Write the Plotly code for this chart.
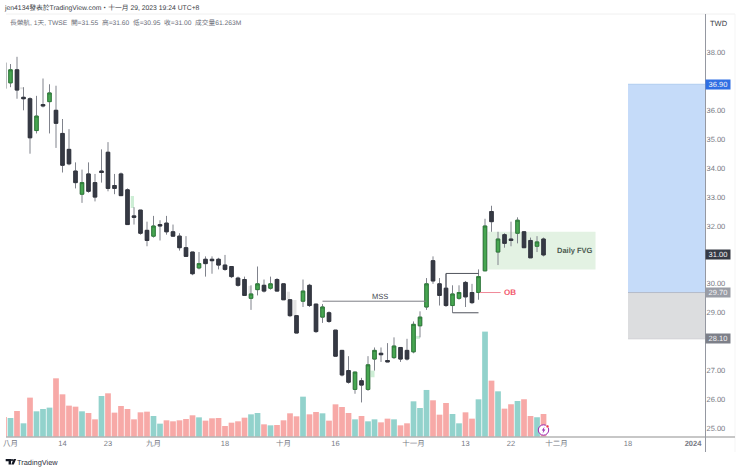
import plotly.graph_objects as go

W, H = 740, 471
# bar index -> session; tick labels sit on the session indices below
bar_index = list(range(84))
opens = [37.65,36.95,37.40,36.45,36.40,35.30,36.20,36.30,36.00,35.20,34.65,33.90,33.10,33.80,33.50,33.90,34.55,33.40,33.80,33.25,32.35,32.55,31.85,31.65,32.05,32.10,31.80,31.65,31.25,31.10,30.55,30.85,30.85,30.85,30.65,30.60,30.20,30.15,29.50,29.80,29.95,29.85,30.15,30.00,29.45,28.90,29.40,29.95,29.30,28.85,29.00,28.40,27.70,27.00,26.35,26.65,26.35,27.40,27.60,27.35,27.45,27.80,27.70,27.65,28.55,29.20,30.80,30.00,29.85,29.25,29.50,30.05,29.70,29.70,30.45,32.50,31.10,31.70,31.55,31.75,31.80,31.50,31.30,31.55]
highs = [37.70,37.60,37.85,36.80,36.45,36.50,37.10,36.90,36.85,35.70,35.35,34.20,33.95,34.20,33.80,34.65,34.90,33.80,33.85,33.30,32.65,32.55,32.15,32.35,32.20,32.35,32.05,31.75,31.65,31.10,31.10,30.95,30.95,30.90,31.00,30.60,30.25,30.25,29.95,30.60,30.15,30.25,30.20,30.00,29.45,28.90,30.15,30.00,29.30,29.30,29.05,28.40,27.70,27.50,26.95,26.75,27.50,27.80,27.80,27.95,28.15,27.80,28.10,28.70,29.05,30.20,30.95,30.20,30.35,29.95,29.95,30.10,30.00,30.50,32.25,32.70,31.80,31.75,32.15,32.30,31.80,31.60,31.65,31.60]
lows = [36.70,36.80,36.40,36.00,34.50,35.20,36.10,35.20,34.70,33.85,34.10,33.30,32.80,33.15,32.85,33.50,33.20,33.10,33.05,32.05,32.05,31.70,31.30,31.60,31.50,31.70,31.65,31.15,30.95,30.30,30.50,30.25,30.35,30.50,30.45,30.20,29.90,29.60,29.10,29.60,29.70,29.80,29.75,29.45,28.85,28.30,29.20,29.20,28.30,28.65,28.65,27.50,26.80,26.55,26.20,25.90,26.30,27.00,27.30,27.30,27.40,27.30,27.35,27.60,28.15,29.10,30.00,29.25,29.20,29.00,29.45,29.20,29.30,29.45,30.45,31.80,30.65,31.25,31.30,31.40,31.25,30.90,31.10,30.95]
closes = [36.75,37.40,36.70,36.40,35.05,35.80,36.15,36.60,35.55,34.10,34.15,33.50,33.50,33.20,33.00,33.85,33.30,33.30,33.05,32.05,32.30,31.75,31.50,32.00,32.00,31.80,31.65,31.25,30.95,30.35,30.70,30.70,30.80,30.65,30.50,30.25,29.95,29.60,29.65,30.00,29.75,30.00,29.75,29.45,28.90,28.30,29.75,29.25,28.35,29.20,28.70,27.50,26.85,26.60,26.95,26.50,27.20,27.70,27.55,27.30,27.85,27.40,27.40,28.60,28.85,30.00,30.10,29.60,29.25,29.65,29.70,29.55,29.35,30.25,32.00,32.15,31.55,31.40,31.50,32.20,31.25,30.90,31.45,31.00]
volumes = [53.2,50.6,69.2,36.4,104.7,68.3,74.5,78.1,156.1,113.5,83.4,80.7,68.3,63.9,47.0,109.1,116.2,64.8,82.5,74.5,47.0,65.6,67.4,55.9,35.5,44.4,41.7,44.4,47.9,57.7,52.3,43.5,49.7,50.6,29.3,38.1,41.7,51.4,60.3,63.9,33.7,31.0,31.9,44.4,63.0,55.0,107.3,60.3,66.5,63.0,43.5,86.9,79.8,63.9,47.0,55.9,41.7,47.0,39.0,48.8,47.0,31.0,36.4,94.9,77.2,125.1,97.6,59.4,90.5,61.2,36.4,65.6,48.8,100.2,280.3,149.9,121.5,75.4,86.9,95.8,100.2,55.9,52.3,61.263]
up_volume_bars = [1,3,5,6,7,12,15,23,24,30,38,39,41,46,49,54,56,57,60,63,64,65,69,70,73,74,76,79,82]

x_tick_vals = [1,9,16,23,34,43,51,63,71,78,85,96,106]
x_tick_text = ["八月","14","23","九月","18","十月","16","十一月","13","22","十二月","18","<b>2024</b>"]
y_tick_vals = [25,26,27,29,30,32,33,34,35,36,38]

TEAL, PINK = "#92d2cc", "#f7a9a7"
FONT = "Liberation Sans, Noto Sans CJK TC, sans-serif"
px = lambda x: x / W
py = lambda y: 1 - y / H

fig = go.Figure()
fig.add_trace(go.Bar(
    x=bar_index, y=volumes, yaxis="y", width=0.88,
    marker=dict(color=[TEAL if i in up_volume_bars else PINK for i in bar_index], line_width=0),
    hoverinfo="skip", showlegend=False))
# wicks in grey, then the same sessions' bodies on top with their darker outlines
fig.add_trace(go.Candlestick(
    x=bar_index, open=opens, high=highs, low=lows, close=closes, yaxis="y2",
    whiskerwidth=0, showlegend=False, hoverinfo="skip",
    increasing=dict(fillcolor="#47a651", line=dict(color="#80838c", width=1)),
    decreasing=dict(fillcolor="#363a45", line=dict(color="#80838c", width=1))))
fig.add_trace(go.Candlestick(
    x=bar_index, open=opens, close=closes, yaxis="y2",
    high=[max(o, c) for o, c in zip(opens, closes)],
    low=[min(o, c) for o, c in zip(opens, closes)],
    whiskerwidth=0, showlegend=False, hoverinfo="skip",
    increasing=dict(fillcolor="#47a651", line=dict(color="#2f7d3a", width=1)),
    decreasing=dict(fillcolor="#363a45", line=dict(color="#33363f", width=1))))

def data_rect(x0, x1, y0, y1, fill, line=None, layer="below"):
    return dict(type="rect", xref="x", yref="y2", x0=x0, x1=x1, y0=y0, y1=y1,
                fillcolor=fill, line=dict(width=0) if line is None else dict(color=line, width=1), layer=layer)

def data_line(x0, x1, y0, y1, color, width=1):
    return dict(type="line", xref="x", yref="y2", x0=x0, x1=x1, y0=y0, y1=y1,
                line=dict(color=color, width=width), layer="above")

def page_line(x0, y0, x1, y1, color, width=1):
    return dict(type="line", xref="paper", yref="paper", x0=px(x0), x1=px(x1), y0=py(y0), y1=py(y1),
                line=dict(color=color, width=width), layer="above")

def page_path(points, fill):
    d = "M " + " L ".join(f"{px(a):.5f} {py(b):.5f}" for a, b in points) + " Z"
    return dict(type="path", xref="paper", yref="paper", path=d, fillcolor=fill, line=dict(width=0), layer="above")

def page_circle(cx, cy, r, fill, line, width=1):
    return dict(type="circle", xref="paper", yref="paper", x0=px(cx-r), x1=px(cx+r), y0=py(cy+r), y1=py(cy-r),
                fillcolor=fill, line=dict(color=line, width=width), layer="above")

shapes = [
    # long / short position boxes
    data_rect(96, 107.92, 29.70, 36.90, "#c5dbf9"),
    data_rect(96, 107.92, 28.10, 29.70, "#dcddDF"),
    data_line(96, 107.92, 36.90, 36.90, "#b0cdf0"),
    data_line(96, 107.92, 29.70, 29.70, "#b4bbcb"),
    data_line(96, 107.92, 28.10, 28.10, "#d0d1d4"),
    # Daily FVG
    data_rect(74.5, 91, 30.50, 31.80, "#e3f2e3"),
    # small imbalance patches
    data_rect(19.5, 20, 32.62, 33.04, "#cdeed5"),
    data_rect(37.6, 38, 29.65, 29.93, "#e3e3e3"),
    data_rect(43.5, 44, 29.47, 29.73, "#e3e3e3"),
    data_rect(44.5, 45, 28.90, 29.44, "#e3e3e3"),
    data_rect(56.4, 57, 26.77, 27.00, "#cdeed5"),
    data_rect(63.4, 64, 28.10, 28.20, "#cdeed5"),
    data_rect(2.5, 3, 36.73, 36.80, "#e3e3e3"),
    # MSS, OB and the range bracket
    data_line(49, 65, 29.40, 29.40, "#7d7f85"),
    data_line(73.2, 76.4, 29.70, 29.70, "#f08a99"),
    data_line(68, 73, 30.36, 30.36, "#50535c"),
    data_line(68, 68, 29.85, 30.36, "#50535c"),
    data_line(69, 73, 29.00, 29.00, "#50535c"),
    # frame
    page_line(6, 14, 735, 14, "#f0f0f0"),
    page_line(735, 14, 735, 452, "#f5f5f5"),
    page_line(6, 437, 735, 437, "#b4b4b4", 1.5),
    page_line(705.5, 14, 705.5, 452, "#9598a1"),
    # TradingView logo
    page_path([(5.7,459),(11,459),(11,464.4),(8.6,464.4),(8.6,461.2),(5.7,461.2)], "#131722"),
    page_circle(12, 460.1, 1.1, "#131722", "#131722", 0),
    page_path([(13.6,459),(16.2,459),(13.8,464.4),(11.2,464.4)], "#131722"),
    # lightning badge
    page_circle(543.5, 430, 5.2, "#ffffff", "#9c27b0", 1),
    page_path([(544.5,426.8),(541.8,430.6),(543.4,430.6),(542.6,433.4),(545.4,429.4),(543.8,429.4)], "#9c27b0"),
    page_circle(547.5, 426.4, 1.4, "#f23645", "#ffffff", 0.5),
]

def page_text(x, y, text, size, color, anchor="left"):
    return dict(xref="paper", yref="paper", x=px(x), y=py(y), text=text, showarrow=False, xanchor=anchor,
                yanchor="middle", font=dict(family=FONT, size=size, color=color), align="left")

def data_text(x, y, text, size, color, anchor="center"):
    return dict(xref="x", yref="y2", x=x, y=y, text=text, showarrow=False, xanchor=anchor,
                yanchor="middle", font=dict(family=FONT, size=size, color=color))

def price_tag(value, label, bg):
    return dict(xref="paper", yref="y2", x=px(718), y=value, text=label, showarrow=False, xanchor="center",
                yanchor="middle", bgcolor=bg, width=24, height=9, borderpad=0,
                font=dict(family=FONT, size=7.5, color="#f4f4f6"))

annotations = [
    page_text(2, 8, "jen4134發表於TradingView.com・十一月 29, 2023 19:24 UTC+8", 6.8, "#3b3e46"),
    page_text(8, 23, "長榮航, 1天, TWSE  開=31.55  高=31.60  低=30.95  收=31.00  成交量61.263M", 6.7, "#6a6d78"),
    page_text(718.5, 23.5, "TWD", 7.5, "#3b3e46", "center"),
    page_text(15, 462, "TradingView", 7.4, "#2a2e39"),
    data_text(57.8, 29.58, "MSS", 7.5, "#44474f"),
    data_text(77.8, 29.70, "<b>OB</b>", 8, "#f2556a"),
    data_text(87.9, 31.17, "<b>Daily FVG</b>", 7.5, "#4a5a50"),
    price_tag(36.90, "36.90", "#2f6fe4"),
    price_tag(31.00, "31.00", "#363a45"),
    price_tag(29.70, "29.70", "#9a9da6"),
    price_tag(28.10, "28.10", "#7d8089"),
]

fig.update_layout(
    width=W, height=H, margin=dict(l=0, r=0, t=0, b=0, autoexpand=False), autosize=False,
    paper_bgcolor="#ffffff", plot_bgcolor="rgba(0,0,0,0)", showlegend=False,
    barmode="overlay", boxgap=0.24, hovermode=False,
    xaxis=dict(domain=[px(6), px(705.5)], range=[0.3077, 107.92], rangeslider=dict(visible=False),
               tickmode="array", tickvals=x_tick_vals, ticktext=x_tick_text, ticks="", showgrid=False,
               zeroline=False, showline=False, tickangle=0,
               tickfont=dict(family=FONT, size=7.5, color="#777a84")),
    yaxis=dict(domain=[py(437), py(14)], range=[0, 1125], visible=False, showgrid=False, zeroline=False),
    yaxis2=dict(overlaying="y", side="right", anchor="x", range=[24.705, 39.33], tickmode="array",
                tickvals=y_tick_vals, ticktext=[f"{v:.2f}" for v in y_tick_vals], ticks="", ticklen=0,
                showgrid=False, zeroline=False, showline=False,
                tickfont=dict(family=FONT, size=7.5, color="#777a84")),
    shapes=shapes, annotations=annotations,
)
fig.write_html("out.html", config=dict(displayModeBar=False, staticPlot=True),
               post_script="document.documentElement.style.overflow='hidden';document.body.style.margin='0';"
                           "var s=document.createElement('style');s.textContent='svg text{text-rendering:geometricPrecision}';"
                           "document.head.appendChild(s);")
